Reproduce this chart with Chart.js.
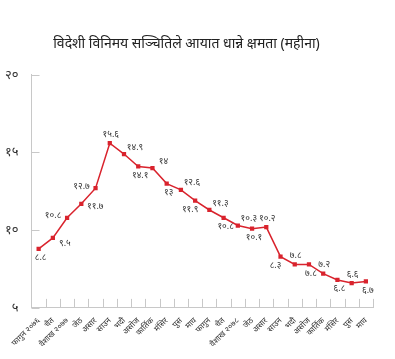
<!DOCTYPE html>
<html>
<head>
<meta charset="utf-8">
<script src="https://cdn.jsdelivr.net/npm/chart.js@4.4.1/dist/chart.umd.min.js"></script>
<style>
  body { margin: 0; background: #fff; }
</style>
</head>
<body>
<canvas id="reserveChart" width="395" height="359"></canvas>
<script>
'use strict';

const months = ['फागुन २०७६', 'चैत', 'वैशाख २०७७', 'जेठ', 'असार', 'साउन', 'भदौ', 'असोज',
  'कार्तिक', 'मंसिर', 'पुस', 'माघ', 'फागुन', 'चैत', 'वैशाख २०७८', 'जेठ', 'असार', 'साउन',
  'भदौ', 'असोज', 'कार्तिक', 'मंसिर', 'पुस', 'माघ'];
const importMonths = [8.8, 9.5, 10.8, 11.7, 12.7, 15.6, 14.9, 14.1, 14, 13, 12.6, 11.9,
  11.3, 10.8, 10.3, 10.1, 10.2, 8.3, 7.8, 7.8, 7.2, 6.8, 6.6, 6.7];
const yTicks = [5, 10, 15, 20];

// where each value label sits relative to its point
const labelSpots = ['b', 'br', 'l', 'r', 'l', 'a', 'ar', 'b', 'ar', 'b', 'ar', 'bl',
  'ar', 'b', 'ar', 'b', 'a', 'bl', 'a', 'b', 'a', 'b', 'a', 'b'];

const devDigits = '०१२३४५६७८९';
function toNepali(v) {
  return String(v).replace(/[0-9]/g, d => devDigits[+d]);
}

const spotOffset = {
  a: [1, -9], b: [2, 9], bl: [-5, 9], ar: [11, -7], br: [12, 5], l: [-14, -2], r: [14, 3]
};

// value labels next to each point
const valueLabels = {
  id: 'valueLabels',
  afterDatasetsDraw(chart) {
    const ctx = chart.ctx;
    const meta = chart.getDatasetMeta(0);
    ctx.save();
    ctx.font = '9px "Noto Sans", sans-serif';
    ctx.fillStyle = '#333';
    ctx.textAlign = 'center';
    ctx.textBaseline = 'middle';
    meta.data.forEach((pt, i) => {
      const off = spotOffset[labelSpots[i]];
      ctx.fillText(toNepali(importMonths[i]), pt.x + off[0], pt.y + off[1]);
    });
    ctx.restore();
  }
};

// short tick marks pointing into the plot
const innerTicks = {
  id: 'innerTicks',
  afterDraw(chart) {
    const ctx = chart.ctx;
    const x = chart.scales.x;
    const y = chart.scales.y;
    const area = chart.chartArea;
    ctx.save();
    ctx.strokeStyle = '#c8c8c8';
    ctx.lineWidth = 1;
    ctx.beginPath();
    y.ticks.forEach(t => {
      const py = Math.round(y.getPixelForValue(t.value)) + 0.5;
      ctx.moveTo(area.left, py);
      ctx.lineTo(area.left + 8, py);
    });
    for (let i = 1; i <= months.length; i++) {
      let px;
      if (i === months.length) px = area.right;
      else px = (x.getPixelForValue(i - 1) + x.getPixelForValue(i)) / 2;
      px = Math.round(px) + 0.5;
      ctx.moveTo(px, area.bottom);
      ctx.lineTo(px, area.bottom - 9);
    }
    ctx.stroke();
    ctx.restore();
  }
};

const chartSetup = {
  type: 'line',
  data: {
    labels: months,
    datasets: [{
      data: importMonths,
      borderColor: '#d9232d',
      backgroundColor: '#d9232d',
      borderWidth: 1.5,
      pointStyle: 'rect',
      pointRadius: 3,
      pointBorderWidth: 0,
      tension: 0
    }]
  },
  options: {
    responsive: false,
    animation: false,
    layout: { padding: { left: 0, right: 22, top: 36, bottom: 10 } },
    plugins: {
      legend: { display: false },
      tooltip: { enabled: false },
      title: {
        display: true,
        text: 'विदेशी विनिमय सञ्चितिले आयात धान्ने क्षमता (महीना)',
        color: '#222',
        font: { family: '"Noto Sans", sans-serif', size: 14, weight: 'normal' },
        padding: { top: 0, bottom: 22 }
      }
    },
    scales: {
      x: {
        offset: true,
        grid: { display: false },
        border: { color: '#c8c8c8' },
        ticks: {
          autoSkip: false,
          minRotation: 45,
          maxRotation: 45,
          padding: 0,
          color: '#333',
          font: { family: '"Noto Sans", sans-serif', size: 8 }
        }
      },
      y: {
        min: 5,
        max: 20,
        afterBuildTicks(scale) {
          scale.ticks = yTicks.map(v => ({ value: v }));
        },
        grid: { display: false },
        border: { color: '#c8c8c8' },
        ticks: {
          padding: 5,
          color: '#333',
          font: { family: '"Noto Sans", sans-serif', size: 13 },
          callback: v => toNepali(v)
        }
      }
    }
  },
  plugins: [valueLabels, innerTicks]
};

const chartCanvas = document.getElementById('reserveChart').getContext('2d');
const reserveChart = new Chart(chartCanvas, chartSetup);
</script>
</body>
</html>
